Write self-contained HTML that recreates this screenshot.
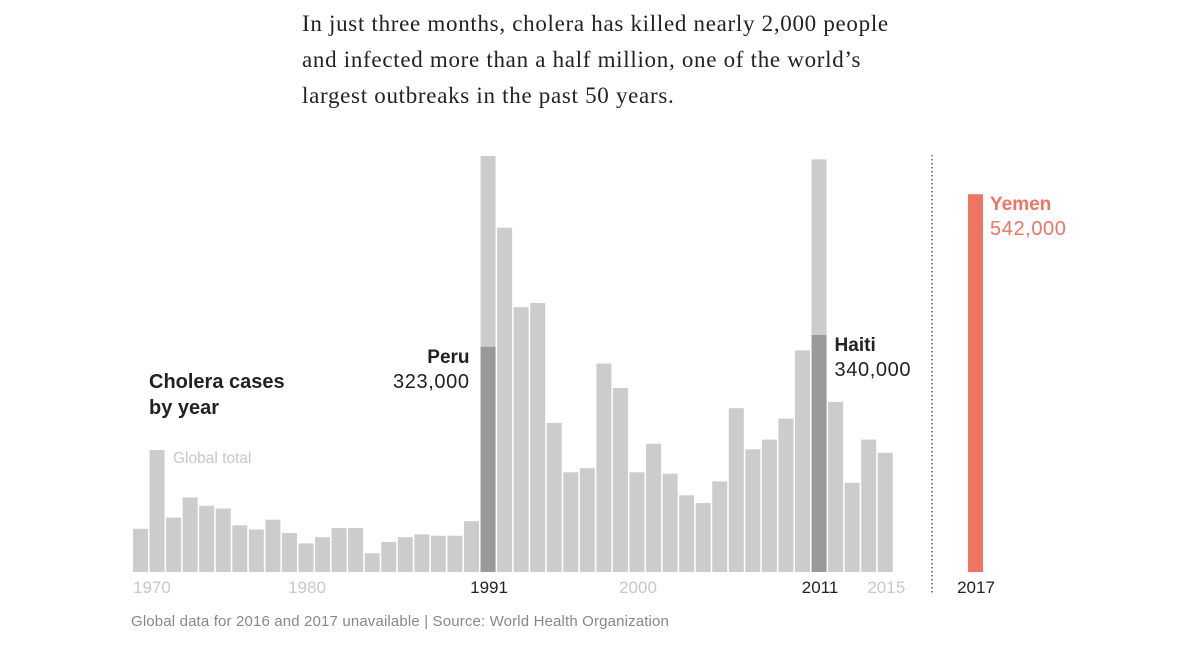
<!DOCTYPE html>
<html><head><meta charset="utf-8"><style>
html,body{margin:0;padding:0;background:#fff;}
body{width:1200px;height:653px;overflow:hidden;position:relative;}
.intro{position:absolute;left:302px;top:6px;font-family:"Liberation Serif",serif;font-size:23px;letter-spacing:0.7px;line-height:36px;color:#222;}
svg{position:absolute;left:0;top:0;}
</style></head><body>
<div class="intro">In just three months, cholera has killed nearly 2,000 people<br>and infected more than a half million, one of the world’s<br>largest outbreaks in the past 50 years.</div>
<svg id="chart" width="1200" height="653" font-family="Liberation Sans, sans-serif"></svg>
<script>
const years = [1970,1971,1972,1973,1974,1975,1976,1977,1978,1979,1980,1981,1982,1983,1984,1985,1986,1987,1988,1989,1990,1991,1992,1993,1994,1995,1996,1997,1998,1999,2000,2001,2002,2003,2004,2005,2006,2007,2008,2009,2010,2011,2012,2013,2014,2015];
const totals = [62,175,78,107,95,91,67,61,75,56,41,50,63,63,27,43,50,54,52,52,73,597,494,380,386,214,143,149,299,264,143,184,141,110,99,130,235,176,190,220,318,592,244,128,190,171];
const highlightYears = [1991,2011];
const highlightValues = [323,340];
const highlightNames = ["Peru","Haiti"];
const highlightLabels = ["323,000","340,000"];
const yemenValue = 542;
const yemenLabel = "542,000";
const tickYears = [1970,1980,1991,2000,2011,2015];

const NS="http://www.w3.org/2000/svg";
const svg=document.getElementById('chart');
const base=572, x0=133, pitch=16.55, bw=15, k=0.697;
const xs=y=>x0+(y-years[0])*pitch;
const ys=v=>base-v*k;
function mk(tag,attrs,txt){const e=document.createElementNS(NS,tag);for(const a in attrs)e.setAttribute(a,attrs[a]);if(txt!=null)e.textContent=txt;svg.appendChild(e);return e;}

years.forEach((yr,i)=>{
  const r=mk('rect',{x:xs(yr),y:ys(totals[i]),width:bw,height:totals[i]*k,fill:'#cccccc'});
  
  
});
highlightYears.forEach((yr,i)=>{
  const r=mk('rect',{x:xs(yr),y:ys(highlightValues[i]),width:bw,height:highlightValues[i]*k,fill:'#999999'});
  
  
  const isLeft=i===0;
  const tx=isLeft?xs(yr)-11:xs(yr)+bw+8;
  const anchor=isLeft?'end':'start';
  const top=ys(highlightValues[i]);
  const t1=mk('text',{x:tx,y:top+16,'text-anchor':anchor,'font-size':19,'font-weight':'bold',fill:'#222'},highlightNames[i]);
  
  
  const t2=mk('text',{x:tx,y:top+41,'text-anchor':anchor,'font-size':20,'letter-spacing':0.6,fill:'#222'},highlightLabels[i]);
  
  
});
tickYears.forEach((yr,i)=>{
  const dark=highlightYears.includes(yr);
  const first=i===0;
  const t=mk('text',{x:first?xs(yr):xs(yr)+bw/2+1,y:593,'text-anchor':first?'start':'middle','font-size':17,fill:dark?'#222':'#c8c8c8'},String(yr));
  
  
});
const d=mk('line',{x1:932,y1:155,x2:932,y2:593,stroke:'#333','stroke-width':1.2,'stroke-dasharray':'1.5,2.5'});


const yb=mk('rect',{x:968,y:ys(yemenValue),width:15,height:yemenValue*k,fill:'#ef7462'});


const yt1=mk('text',{x:990,y:ys(yemenValue)+16,'font-size':19,'font-weight':'bold',fill:'#ef7462'},'Yemen');


const yt2=mk('text',{x:990,y:ys(yemenValue)+41,'font-size':20,'letter-spacing':0.6,fill:'#ef7462'},yemenLabel);


const y17=mk('text',{x:976,y:593,'text-anchor':'middle','font-size':17,fill:'#222'},'2017');


const c1=mk('text',{x:149,y:388,'font-size':20,'font-weight':'bold',fill:'#222'},'Cholera cases');


const c2=mk('text',{x:149,y:414,'font-size':20,'font-weight':'bold',fill:'#222'},'by year');


const gt=mk('text',{x:173,y:463,'font-size':15.5,fill:'#c8c8c8'},'Global total');


const src=mk('text',{x:131,y:626,'font-size':15,'letter-spacing':0.15,fill:'#888'},'Global data for 2016 and 2017 unavailable | Source: World Health Organization');


</script>
</body></html>
